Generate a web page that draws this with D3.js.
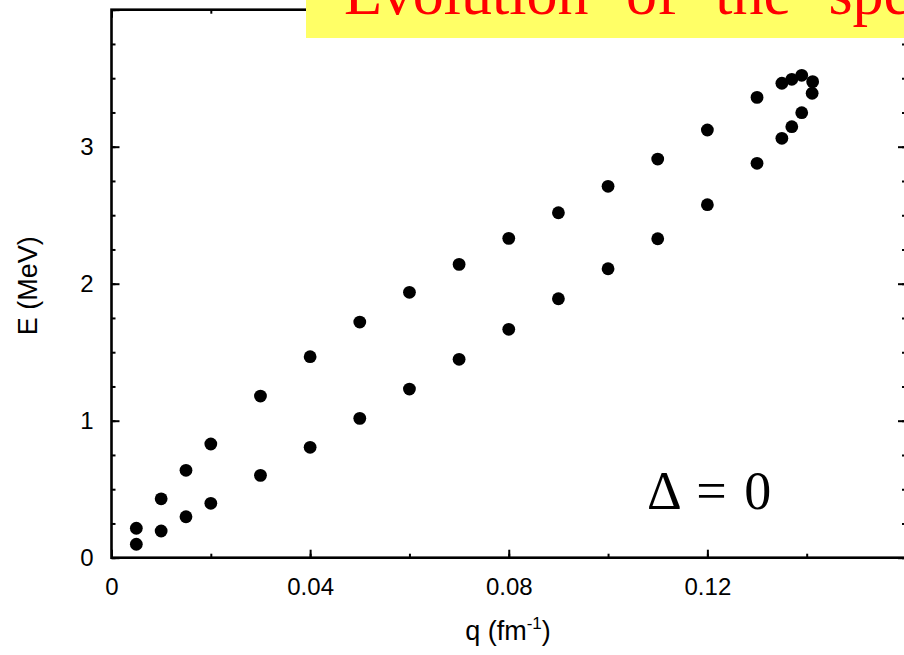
<!DOCTYPE html>
<html><head><meta charset="utf-8">
<script src="https://cdn.jsdelivr.net/npm/d3@7"></script>
<style>body{margin:0;background:#fff;} svg{display:block;}</style>
</head><body>
<svg id="chart" width="904" height="655"></svg>
<script>
// ---- data ----
const upperQ = [0.005,0.01,0.015,0.02,0.03,0.04,0.05,0.06,0.07,0.08,0.09,0.10,0.11,0.12,0.13,0.135,0.137,0.139,0.1412];
const upperE = [0.215,0.43,0.638,0.83,1.18,1.467,1.72,1.937,2.141,2.331,2.518,2.711,2.91,3.122,3.36,3.463,3.492,3.521,3.475];
const lowerQ = [0.005,0.01,0.015,0.02,0.03,0.04,0.05,0.06,0.07,0.08,0.09,0.10,0.11,0.12,0.13,0.135,0.137,0.139,0.1411];
const lowerE = [0.098,0.195,0.299,0.397,0.601,0.806,1.017,1.231,1.448,1.667,1.89,2.109,2.328,2.577,2.879,3.061,3.146,3.248,3.39];
const xTickLabels = [0, 0.04, 0.08, 0.12];
const yTickLabels = [0, 1, 2, 3];
const xMajorTicks = [0, 0.04, 0.08, 0.12, 0.16];
const yMajorTicks = [0, 1, 2, 3, 4];
const titleText = "Evolution of the spectrum";
const annotation = "\u0394 = 0";

// ---- layout ----
const svg = d3.select("#chart");
const x = d3.scaleLinear().domain([0, 0.16]).range([111.5, 906]);
const y = d3.scaleLinear().domain([0, 4]).range([557.7, 9.7]);
const xMinor = d3.range(0, 0.1601, 0.02);
const yMinor = d3.range(0, 4.001, 0.25);
const sans = "'Liberation Sans', Arial, Helvetica, sans-serif";
const serif = "'Liberation Serif', 'Times New Roman', serif";

function style(g){
  g.select(".domain").remove();
  g.selectAll(".tick line").attr("stroke","#000").attr("stroke-width",2);
  g.selectAll(".tick text").attr("fill","#000").style("font-family",sans).style("font-size","24px");
}

// bottom
svg.append("g").attr("transform",`translate(0,${y(0)})`)
  .call(d3.axisBottom(x).tickValues(xMinor).tickSize(-4).tickFormat("")).call(style);
svg.append("g").attr("transform",`translate(0,${y(0)})`)
  .call(d3.axisBottom(x).tickValues(xMajorTicks).tickSize(-8).tickPadding(20)
    .tickFormat(d => xTickLabels.includes(d) ? d3.format("~g")(d) : "")).call(style);
// top
svg.append("g").attr("transform",`translate(0,${y(4)})`)
  .call(d3.axisTop(x).tickValues(xMinor).tickSize(-4).tickFormat("")).call(style);
svg.append("g").attr("transform",`translate(0,${y(4)})`)
  .call(d3.axisTop(x).tickValues(xMajorTicks).tickSize(-8).tickFormat("")).call(style);
// left
svg.append("g").attr("transform",`translate(${x(0)},0)`)
  .call(d3.axisLeft(y).tickValues(yMinor).tickSize(-4).tickFormat("")).call(style);
svg.append("g").attr("transform",`translate(${x(0)},0)`)
  .call(d3.axisLeft(y).tickValues(yMajorTicks).tickSize(-8).tickPadding(18)
    .tickFormat(d => yTickLabels.includes(d) ? d : "")).call(style);
// right
svg.append("g").attr("transform",`translate(${x(0.16)},0)`)
  .call(d3.axisRight(y).tickValues(yMinor).tickSize(-4).tickFormat("")).call(style);
svg.append("g").attr("transform",`translate(${x(0.16)},0)`)
  .call(d3.axisRight(y).tickValues(yMajorTicks).tickSize(-8).tickFormat("")).call(style);

// frame
svg.append("rect")
  .attr("x", x(0)).attr("y", y(4))
  .attr("width", x(0.16) - x(0)).attr("height", y(0) - y(4))
  .attr("fill","none").attr("stroke","#000").attr("stroke-width",2.6);

// points
const pts = upperQ.map((q,i)=>({q, e: upperE[i]}))
  .concat(lowerQ.map((q,i)=>({q, e: lowerE[i]})));
svg.append("g").selectAll("circle").data(pts).join("circle")
  .attr("cx", d => x(d.q)).attr("cy", d => y(d.e)).attr("r", 6.4).attr("fill","#000");

// axis titles
svg.append("text").attr("transform",`translate(37,${(y(0)+y(4))/2 + 2}) rotate(-90)`)
  .attr("text-anchor","middle").style("font-family",sans).style("font-size","27px").text("E (MeV)");
const xt = svg.append("text").attr("x", 508).attr("y", 640).attr("text-anchor","middle")
  .style("font-family",sans).style("font-size","27px");
xt.append("tspan").text("q (fm");
xt.append("tspan").attr("dy",-11).style("font-size","17px").text("-1");
xt.append("tspan").attr("dy",11).text(")");

// annotation
svg.append("text").attr("x", 647).attr("y", 509)
  .style("font-family",serif).style("font-size","54px").style("word-spacing","4px")
  .attr("fill","#000").text(annotation);

// title box
const clip = svg.append("clipPath").attr("id","tclip");
clip.append("rect").attr("x",306).attr("y",0).attr("width",598).attr("height",38);
svg.append("rect").attr("x",306).attr("y",0).attr("width",598).attr("height",38).attr("fill","#ffff66");
svg.append("text").attr("clip-path","url(#tclip)").attr("x",344).attr("y",14)
  .style("font-family",serif).style("font-size","62px").style("word-spacing","22px")
  .attr("fill","#ff0000").text(titleText);
</script>
</body></html>
